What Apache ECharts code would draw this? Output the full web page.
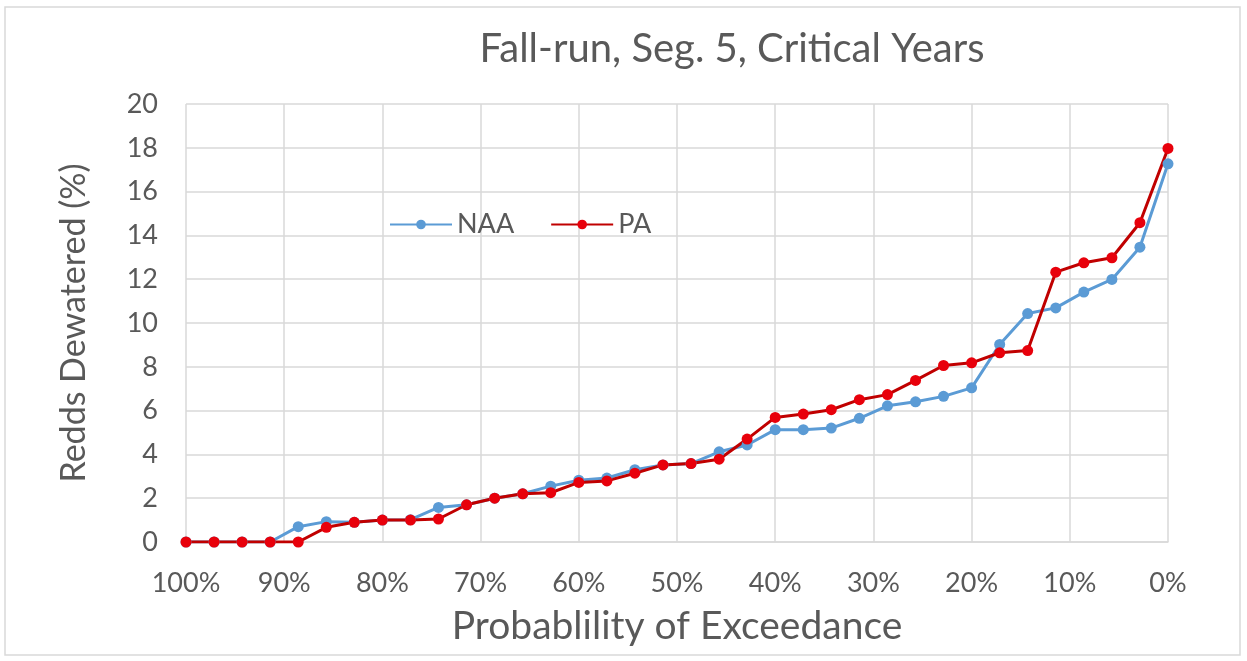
<!DOCTYPE html>
<html>
<head>
<meta charset="utf-8">
<script src="https://cdn.jsdelivr.net/npm/echarts@6/dist/echarts.min.js"></script>
<style>
  html, body { margin: 0; padding: 0; background: #fff; }
  #chart { width: 1247px; height: 661px; }
</style>
</head>
<body>
<div id="chart"></div>
<script>
// exceedance probability (%) of each ranked year
const exceedance = [100, 97.14, 94.29, 91.43, 88.57, 85.71, 82.86, 80, 77.14, 74.29,
  71.43, 68.57, 65.71, 62.86, 60, 57.14, 54.29, 51.43, 48.57, 45.71,
  42.86, 40, 37.14, 34.29, 31.43, 28.57, 25.71, 22.86, 20, 17.14,
  14.29, 11.43, 8.57, 5.71, 2.86, 0];
const naa = [0, 0, 0, 0, 0.7, 0.93, 0.9, 1.0, 1.02, 1.58,
  1.7, 2.0, 2.2, 2.55, 2.82, 2.92, 3.3, 3.52, 3.58, 4.12,
  4.43, 5.13, 5.13, 5.2, 5.65, 6.22, 6.4, 6.65, 7.04, 9.02,
  10.43, 10.69, 11.41, 11.99, 13.46, 17.27];
const pa = [0, 0, 0, 0, 0, 0.67, 0.9, 1.0, 1.0, 1.05,
  1.7, 2.0, 2.2, 2.25, 2.72, 2.79, 3.14, 3.52, 3.58, 3.78,
  4.7, 5.69, 5.84, 6.04, 6.5, 6.73, 7.38, 8.06, 8.18, 8.64,
  8.74, 12.32, 12.75, 12.98, 14.58, 17.97];

const font = "Lato";
const textColor = "#595959";
const gridColor = "#d9d9d9";

function pairs(ys) {
  return exceedance.map((x, i) => [x, ys[i]]);
}

const chart = echarts.init(document.getElementById("chart"));
chart.setOption({
  animation: false,
  textStyle: { fontFamily: font, color: textColor },
  graphic: [
    {
      type: "rect",
      shape: { x: 5, y: 7, width: 1235, height: 648 },
      style: { fill: "none", stroke: "#d9d9d9", lineWidth: 1.5 },
    },
  ],
  title: {
    text: "Fall-run, Seg. 5, Critical Years",
    left: 727,
    top: 24,
    textAlign: "center",
    textStyle: { fontFamily: font, fontSize: 40, fontWeight: "normal", color: textColor },
  },
  legend: {
    data: ["NAA", "PA"],
    left: 384,
    top: 206,
    itemWidth: 62,
    itemHeight: 12,
    itemGap: 36,
    textStyle: { fontFamily: font, fontSize: 27, color: textColor },
  },
  grid: { left: 186, right: 79, top: 104, bottom: 119 },
  xAxis: {
    type: "value",
    min: 0,
    max: 100,
    interval: 10,
    inverse: true,
    name: "Probablility of Exceedance",
    nameLocation: "middle",
    nameGap: 65,
    nameTextStyle: { fontFamily: font, fontSize: 39, color: textColor },
    axisLine: { show: true, lineStyle: { color: gridColor, width: 1.5 } },
    axisTick: { show: false },
    axisLabel: {
      margin: 28,
      fontSize: 27,
      color: textColor,
      formatter: "{value}%",
    },
    splitLine: { show: true, lineStyle: { color: gridColor, width: 1.5 } },
  },
  yAxis: {
    type: "value",
    min: 0,
    max: 20,
    interval: 2,
    name: "Redds Dewatered (%)",
    nameLocation: "middle",
    nameGap: 95,
    nameTextStyle: { fontFamily: font, fontSize: 34, color: textColor },
    axisLine: { show: false },
    axisTick: { show: false },
    axisLabel: { margin: 28, fontSize: 27, color: textColor },
    splitLine: { show: true, lineStyle: { color: gridColor, width: 1.5 } },
  },
  series: [
    {
      name: "NAA",
      type: "line",
      data: pairs(naa),
      symbol: "circle",
      symbolSize: 11,
      itemStyle: { color: "#5b9bd5" },
      lineStyle: { color: "#5b9bd5", width: 3 },
    },
    {
      name: "PA",
      type: "line",
      data: pairs(pa),
      symbol: "circle",
      symbolSize: 11,
      itemStyle: { color: "#e8000b" },
      lineStyle: { color: "#c00000", width: 3 },
    },
  ],
});
</script>
</body>
</html>
